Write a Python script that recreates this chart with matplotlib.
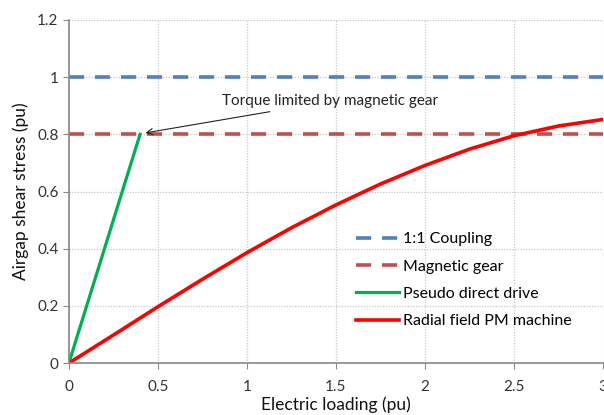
import matplotlib.pyplot as plt

plt.rcParams['font.family'] = ['Lato', 'DejaVu Sans']

# data
coupling_level = 1.0
gear_level = 0.8
pdd_x = [0, 0.4]
pdd_y = [0, 0.8]
pm_x = [0, 0.25, 0.5, 0.75, 1.0, 1.25, 1.5, 1.75, 2.0, 2.25, 2.5, 2.75, 3.0]
pm_y = [0, 0.098, 0.197, 0.293, 0.386, 0.473, 0.553, 0.626, 0.691, 0.748, 0.795, 0.829, 0.852]
x_ticks = [0, 0.5, 1, 1.5, 2, 2.5, 3]
x_tick_labels = ['0', '0.5', '1', '1.5', '2', '2.5', '3']
y_ticks = [0, 0.2, 0.4, 0.6, 0.8, 1.0, 1.2]
y_tick_labels = ['0', '0.2', '0.4', '0.6', '0.8', '1', '1.2']

fig = plt.figure(figsize=(6.04, 4.15), dpi=100)
ax = fig.add_axes([0.114, 0.125, 0.884, 0.827])

ax.plot([0, 3], [coupling_level, coupling_level], color='#4F81BD', lw=2.6,
        dashes=(4.2, 3.0), label='1:1 Coupling')
ax.plot([0, 3], [gear_level, gear_level], color='#C0504D', lw=2.6,
        dashes=(4.2, 3.0), label='Magnetic gear')
ax.plot(pdd_x, pdd_y, color='#00B050', lw=2.3, label='Pseudo direct drive')
ax.plot(pm_x, pm_y, color='#FF0000', lw=2.6, label='Radial field PM machine',
        solid_joinstyle='round')

ax.annotate('Torque limited by magnetic gear', xy=(0.43, 0.805), xytext=(0.86, 0.915),
            fontsize=11, color='#222222', va='center', ha='left',
            arrowprops=dict(arrowstyle='->', color='#222222', lw=0.8,
                            shrinkA=2, shrinkB=0))

ax.set_xlim(0, 3)
ax.set_ylim(0, 1.2)
ax.set_xticks(x_ticks)
ax.set_xticklabels(x_tick_labels)
ax.set_yticks(y_ticks)
ax.set_yticklabels(y_tick_labels)
ax.tick_params(axis='both', colors='#888888', labelcolor='#333333', labelsize=11,
               length=4, direction='out')
ax.tick_params(axis='x', pad=8)
ax.grid(True, color='#C8C8C8', linestyle=(0, (1, 1.2)), lw=0.9)
ax.set_axisbelow(True)
for side in ['top', 'right']:
    ax.spines[side].set_visible(False)
for side in ['left', 'bottom']:
    ax.spines[side].set_color('#888888')
    ax.spines[side].set_linewidth(1.2)

ax.set_xlabel('Electric loading (pu)', fontsize=12.5, color='#111111', labelpad=2)
ax.set_ylabel('Airgap shear stress (pu)', fontsize=12.5, color='#111111', labelpad=6)

leg = ax.legend(loc='lower left', bbox_to_anchor=(0.51, 0.06), frameon=False,
                fontsize=11.5, handlelength=2.7, handletextpad=0.3, labelspacing=0.82)

fig.savefig('out.png', dpi=100)
